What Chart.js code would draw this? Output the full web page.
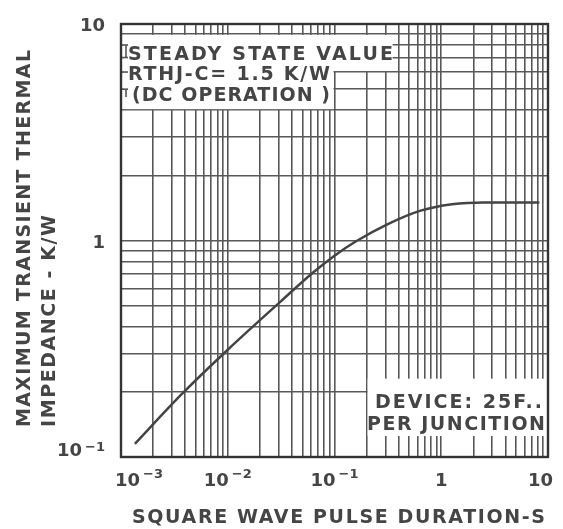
<!DOCTYPE html>
<html><head><meta charset="utf-8">
<script src="https://cdn.jsdelivr.net/npm/chart.js@4.4.0/dist/chart.umd.min.js"></script>
<style>html,body{margin:0;padding:0;background:#fff;} canvas{display:block;}</style>
</head><body>
<canvas id="c" width="563" height="529"></canvas>
<script>
// ---- data ----
const pulseDuration = [0.00135, 0.0037, 0.01,  0.0316, 0.063, 0.1,   0.158, 0.316, 0.63, 1.26, 2.5,  8.3];
const impedance     = [0.115,   0.195,  0.313, 0.525,  0.711, 0.851, 0.989, 1.19,  1.37, 1.47, 1.50, 1.50];
const xTickValues = [0.001, 0.01, 0.1, 1, 10];
const xTickLabels = [['10','−3'],['10','−2'],['10','−1'],['1',''],['10','']];
const yTickValues = [0.1, 1, 10];
const yTickLabels = [['10','−1'],['1',''],['10','']];
const gridMantissas = [1,2,3,4,5,6,7,8,9];
const xTitle = 'SQUARE WAVE PULSE DURATION-S';
const yTitleLines = ['MAXIMUM TRANSIENT THERMAL', 'IMPEDANCE - K/W'];
const steadyNote = ['STEADY STATE VALUE', 'RTHJ-C= 1.5 K/W', '(DC OPERATION )'];
const deviceNote = ['DEVICE: 25F..', 'PER JUNCITION'];

function logGrid(decades){
  const out = [];
  for (let i = 0; i < decades.length - 1; i++)
    for (const m of gridMantissas) out.push(parseFloat((decades[i]*m).toPrecision(4)));
  out.push(decades[decades.length-1]);
  return out;
}
const xGrid = logGrid(xTickValues);
const yGrid = logGrid(yTickValues);

const INK = '#454545';
const FONT = "'DejaVu Sans', sans-serif";

function fitText(ctx, text, x, y, w, size){
  ctx.font = 'bold ' + size + 'px ' + FONT;
  const hasLS = ('letterSpacing' in ctx);
  if (hasLS) ctx.letterSpacing = '0px';
  const m = ctx.measureText(text).width;
  if (m < w && hasLS && text.length > 1){
    ctx.letterSpacing = ((w - m) / (text.length - 1)) + 'px';
    ctx.fillText(text, x, y);
    ctx.letterSpacing = '0px';
  } else {
    ctx.save(); ctx.translate(x, y); ctx.scale(w / m, 1); ctx.fillText(text, 0, 0); ctx.restore();
  }
}

function powWidth(ctx, lab){
  ctx.font = 'bold 18px ' + FONT; const a = ctx.measureText(lab[0]).width;
  ctx.font = 'bold 13px ' + FONT; const b = lab[1] ? ctx.measureText(lab[1]).width + 3 : 0;
  return [a, b];
}
function drawPow(ctx, lab, left, base, supRaise){
  const [a] = powWidth(ctx, lab);
  ctx.font = 'bold 18px ' + FONT; ctx.fillText(lab[0], left, base);
  if (lab[1]) { ctx.font = 'bold 13px ' + FONT; ctx.fillText(lab[1], left + a + 3, base - supRaise); }
}

const notesPlugin = {
  id: 'notes',
  beforeDatasetsDraw(chart){
    const {ctx, chartArea: ca, scales: {x: xs, y: ys}} = chart;
    ctx.save();
    ctx.fillStyle = '#ffffff';
    // steady state note box (upper + lower part)
    ctx.fillRect(ca.left + 1.5, ys.getPixelForValue(9) + 1, xs.getPixelForValue(0.35) - ca.left - 1.5, ys.getPixelForValue(6) - 1 - ys.getPixelForValue(9) - 1);
    ctx.fillRect(ca.left + 1.5, ys.getPixelForValue(6) - 1.5, xs.getPixelForValue(0.1) - 1 - ca.left - 1.5, ys.getPixelForValue(4) - 1 - ys.getPixelForValue(6) + 1.5);
    // device note box
    ctx.fillRect(xs.getPixelForValue(0.2) + 1, ys.getPixelForValue(0.23), ca.right - 1 - xs.getPixelForValue(0.2) - 1, ys.getPixelForValue(0.125) - ys.getPixelForValue(0.23));
    // remnant stubs at left border
    ctx.strokeStyle = '#555'; ctx.lineWidth = 1.6;
    for (const v of [8, 7, 6, 5]) {
      const py = ys.getPixelForValue(v);
      ctx.beginPath(); ctx.moveTo(ca.left, py); ctx.lineTo(ca.left + 7, py); ctx.stroke();
    }
    ctx.beginPath(); ctx.moveTo(ca.left + 5, ys.getPixelForValue(8)); ctx.lineTo(ca.left + 5, ys.getPixelForValue(7)); ctx.stroke();
    ctx.beginPath(); ctx.moveTo(ca.left + 5, ys.getPixelForValue(5)); ctx.lineTo(ca.left + 5, ys.getPixelForValue(4.6)); ctx.stroke();
    ctx.restore();
  },
  afterDatasetsDraw(chart){
    const {ctx, chartArea: ca, scales: {x: xs, y: ys}} = chart;
    ctx.save();
    // frame
    ctx.strokeStyle = '#333'; ctx.lineWidth = 2.4;
    ctx.strokeRect(ca.left, ca.top, ca.right - ca.left, ca.bottom - ca.top);
    ctx.fillStyle = INK; ctx.textBaseline = 'alphabetic'; ctx.textAlign = 'left';
    // notes
    fitText(ctx, steadyNote[0], 128, 60, 265, 19);
    fitText(ctx, steadyNote[1], 128, 80, 202, 19);
    fitText(ctx, steadyNote[2], 132, 101, 198, 19);
    fitText(ctx, deviceNote[0], 375, 408, 167, 19);
    fitText(ctx, deviceNote[1], 367, 430, 178, 19);
    // axis titles
    fitText(ctx, xTitle, 132, 523, 413, 19);
    ctx.save(); ctx.translate(30, 427); ctx.rotate(-Math.PI / 2);
    fitText(ctx, yTitleLines[0], 0, 0, 377, 19); ctx.restore();
    ctx.save(); ctx.translate(55, 427); ctx.rotate(-Math.PI / 2);
    fitText(ctx, yTitleLines[1], 0, 0, 212, 19); ctx.restore();
    // x tick labels
    xTickValues.forEach((v, i) => {
      const lab = xTickLabels[i];
      const [a, b] = powWidth(ctx, lab);
      const w = a + b;
      let left = xs.getPixelForValue(v) - w / 2;
      left = Math.max(115, Math.min(553 - w, left));
      drawPow(ctx, lab, left, 486, 8);
    });
    // y tick labels
    yTickValues.forEach((v, i) => {
      const lab = yTickLabels[i];
      const [a, b] = powWidth(ctx, lab);
      const w = a + b;
      const cy = Math.max(23, Math.min(449, ys.getPixelForValue(v)));
      drawPow(ctx, lab, 105 - w, cy + 7, 5);
    });
    ctx.restore();
  }
};

const gridOpts = {color: '#585858', lineWidth: 1.6, drawTicks: false};
new Chart(document.getElementById('c'), {
  type: 'line',
  data: {datasets: [{
    data: pulseDuration.map((x, i) => ({x, y: impedance[i]})),
    borderColor: '#444', borderWidth: 2.5, pointRadius: 0,
    cubicInterpolationMode: 'monotone', fill: false
  }]},
  options: {
    responsive: false, animation: false, devicePixelRatio: 1,
    layout: {padding: {left: 121, right: 15, top: 24, bottom: 72}},
    plugins: {legend: {display: false}, tooltip: {enabled: false}},
    scales: {
      x: {type: 'logarithmic', min: 0.001, max: 10, grid: gridOpts, border: {display: false},
          ticks: {display: false}, afterBuildTicks: s => { s.ticks = xGrid.map(v => ({value: v})); }},
      y: {type: 'logarithmic', min: 0.1, max: 10, grid: gridOpts, border: {display: false},
          ticks: {display: false}, afterBuildTicks: s => { s.ticks = yGrid.map(v => ({value: v})); }}
    }
  },
  plugins: [notesPlugin]
});
</script>
</body></html>
